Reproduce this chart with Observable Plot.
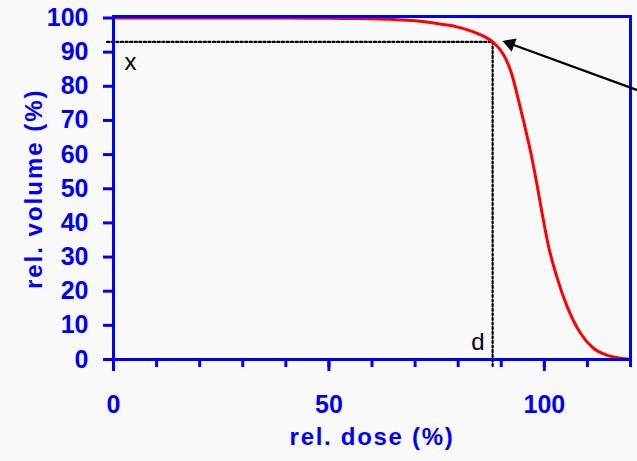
<!DOCTYPE html>
<html>
<head>
<meta charset="utf-8">
<script src="https://cdn.jsdelivr.net/npm/d3@7"></script>
<script src="https://cdn.jsdelivr.net/npm/@observablehq/plot@0.6"></script>
<style>
  html, body { margin: 0; padding: 0; background: #f9f9f9; overflow: hidden; }
  #chart svg { display: block; }
</style>
</head>
<body>
<div id="chart"></div>
<script>
// Cumulative dose-volume curve
const dose   = [0, 10, 20, 30, 40, 50, 55, 60, 65, 70, 73.5, 76, 79.7, 82, 84.4, 86, 87.5, 88.2, 89.5, 90.6, 91.6, 92.5, 93.7, 95.2, 96.8, 98.3, 99.5, 101, 102.9, 105.3, 108.4, 111.4, 114.5, 117.6, 120];
const volume = [100, 100, 100, 100, 100, 99.9, 99.85, 99.75, 99.55, 99.2, 98.7, 98.2, 97.4, 96.6, 95.5, 94.6, 93.5, 92.8, 91.1, 89.1, 86.5, 83.3, 77.5, 69.7, 60.9, 51.2, 42.7, 33, 24.2, 15.5, 7.7, 3.3, 1.3, 0.4, 0.1];

// Axis ticks
const xMajorTicks = [0, 50, 100];
const xMinorTicks = [0, 10, 20, 30, 40, 50, 60, 70, 80, 90, 100, 110, 120];
const yTicks = [0, 10, 20, 30, 40, 50, 60, 70, 80, 90, 100];

// Axis titles
const xTitle = "rel. dose (%)";
const yTitle = "rel. volume (%)";

// Dotted guide lines (dose d, volume x)
const hGuideX = [-1.5, 88];
const hGuideY = [93, 93];
const vGuideX = [88, 88];
const vGuideY = [93, -2];

// Arrow pointing to the curve
const arrowFrom = [123, 78.2];
const arrowTo = [90.3, 93.3];

// Point labels
const pointLabels = ["x", "d"];
const pointLabelX = [3.95, 84.6];
const pointLabelY = [87.1, 5.1];

const blue = "#0000ff";
const headR = 5.3;
const curveData = dose.map((d, i) => ({dose: d, volume: volume[i]}));
const hGuide = hGuideX.map((d, i) => ({x: d, y: hGuideY[i]}));
const vGuide = vGuideX.map((d, i) => ({x: d, y: vGuideY[i]}));
const labelData = pointLabels.map((t, i) => ({t, x: pointLabelX[i], y: pointLabelY[i]}));

function build(headData) {
  const extra = headData ? [
    Plot.link([headData], {x1: "x1", y1: "y1", x2: "x2", y2: "y2", stroke: "black", strokeWidth: 2.3}),
    Plot.dot([headData], {x: "hx", y: "hy", symbol: "triangle", r: headR, rotate: "angle", fill: "black", stroke: "none"})
  ] : [];
  return Plot.plot({
    width: 637,
    height: 461,
    marginLeft: 113,
    marginRight: 7,
    marginTop: 17.5,
    marginBottom: 102,
    x: {domain: [0, 120]},
    y: {domain: [0, 100]},
    style: {background: "transparent", fontFamily: "'Liberation Sans', Arial, sans-serif", overflow: "hidden"},
    marks: [
      Plot.line(hGuide, {x: "x", y: "y", stroke: "black", strokeWidth: 2.2, strokeDasharray: "2.2,2.4"}),
      Plot.line(vGuide, {x: "x", y: "y", stroke: "black", strokeWidth: 2.2, strokeDasharray: "2.2,2.4"}),
      Plot.line(curveData, {x: "dose", y: "volume", stroke: "#ff0000", strokeWidth: 3, curve: "monotone-x"}),
      Plot.frame({stroke: blue, strokeWidth: 3, insetTop: -1.5}),
      Plot.axisX({ticks: xMinorTicks, tickSize: 8, tickFormat: () => "", stroke: blue, strokeWidth: 3, label: null}),
      Plot.axisX({ticks: xMajorTicks, tickSize: 12, tickPadding: 24, tickFormat: d => String(d),
        stroke: blue, fill: blue, strokeWidth: 3, fontSize: 25, fontWeight: "bold", label: null}),
      Plot.axisY({ticks: yTicks, tickSize: 10, tickPadding: 15, tickFormat: d => String(d),
        stroke: blue, fill: blue, strokeWidth: 3, fontSize: 25, fontWeight: "bold", label: null}),
      Plot.text([xTitle], {text: d => d, frameAnchor: "bottom", dy: 85, fill: blue, fontSize: 24, fontWeight: "bold"}),
      Plot.text([yTitle], {text: d => d, frameAnchor: "left", textAnchor: "middle", dx: -79, rotate: -90, fill: blue, fontSize: 24, fontWeight: "bold"}),
      Plot.text(labelData, {x: "x", y: "y", text: "t", fill: "black", fontSize: 24, fontWeight: "normal"}),
      ...extra
    ]
  });
}

// first pass: read the scales to orient the filled arrow head
const probe = build(null);
const sx = probe.scale("x"), sy = probe.scale("y");
const tx = sx.apply(arrowTo[0]), ty = sy.apply(arrowTo[1]);
const fx = sx.apply(arrowFrom[0]), fy = sy.apply(arrowFrom[1]);
const len = Math.hypot(tx - fx, ty - fy);
const ux = (tx - fx) / len, uy = (ty - fy) / len;
const tipDist = 2 * Math.sqrt((Math.PI * headR * headR) / (3 * Math.sqrt(3)));
const headData = {
  x1: arrowFrom[0], y1: arrowFrom[1],
  x2: sx.invert(tx - ux * tipDist), y2: sy.invert(ty - uy * tipDist),
  hx: sx.invert(tx - ux * tipDist), hy: sy.invert(ty - uy * tipDist),
  angle: Math.atan2(ux, -uy) * 180 / Math.PI
};

const chart = build(headData);
document.getElementById("chart").appendChild(chart);

// widen the axis titles slightly, as in the reference
d3.select(chart).selectAll("text").each(function() {
  const t = this.textContent;
  if (t === xTitle) d3.select(this).attr("letter-spacing", "1.7px");
  if (t === yTitle) d3.select(this).attr("letter-spacing", "2px");
});
</script>
</body>
</html>
